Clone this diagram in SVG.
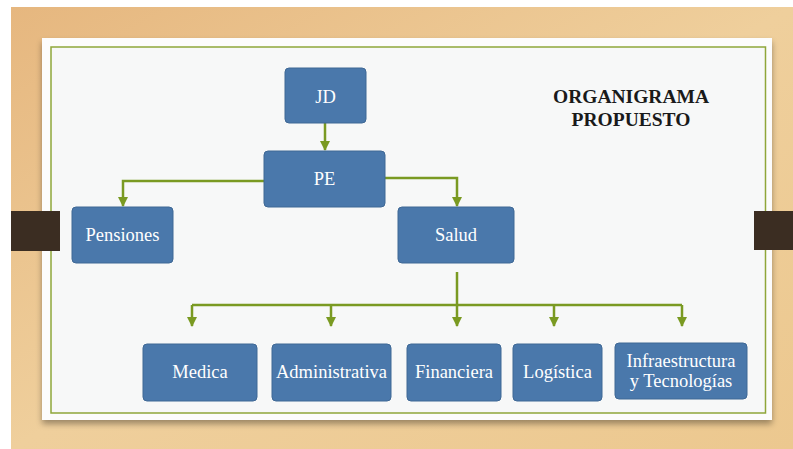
<svg xmlns="http://www.w3.org/2000/svg" width="793" height="449" viewBox="0 0 793 449">
<defs>
<linearGradient id="wood" x1="0" y1="0" x2="1" y2="1">
<stop offset="0" stop-color="#e6b77f"/>
<stop offset="0.5" stop-color="#efcf9c"/>
<stop offset="1" stop-color="#ecc88f"/>
</linearGradient>
<marker id="arr" viewBox="0 0 10 10" refX="9" refY="5" markerWidth="4" markerHeight="4" orient="auto" markerUnits="strokeWidth">
<path d="M0,0 L10,5 L0,10 z" fill="#7a9a22"/>
</marker>
<filter id="sh" x="-5%" y="-5%" width="110%" height="115%">
<feGaussianBlur in="SourceAlpha" stdDeviation="3"/>
<feOffset dx="0" dy="4"/>
<feComponentTransfer><feFuncA type="linear" slope="0.35"/></feComponentTransfer>
<feMerge><feMergeNode/><feMergeNode in="SourceGraphic"/></feMerge>
</filter>
</defs>
<style>
.node rect{fill:#4a78ab;stroke:#3f6895;stroke-width:1}
.node text{fill:#ffffff;font-size:18.5px;text-anchor:middle}
.conn path{fill:none;stroke:#7a9a22;stroke-width:2.5;marker-end:url(#arr)}
.conn line{stroke:#7a9a22;stroke-width:2.5}
.title{font-weight:bold;font-size:19.5px;fill:#1a1a1a;text-anchor:middle}
</style>
<rect x="0" y="0" width="793" height="449" fill="#ffffff"/>
<rect x="11" y="7" width="782" height="442" fill="url(#wood)"/>
<rect x="42" y="38" width="730" height="382" fill="#fcfcfc" filter="url(#sh)"/>
<rect x="51" y="47" width="714.5" height="366" fill="#f7f8f8" stroke="#8fa63a" stroke-width="1.5"/>
<rect x="11" y="211" width="49" height="40" fill="#3b2d22"/>
<rect x="754" y="211" width="39" height="39" fill="#3b2d22"/>
<g id="title" font-family="'Liberation Serif', 'Times New Roman', serif"><text class="title" x="631" y="103">ORGANIGRAMA</text><text class="title" x="631" y="126">PROPUESTO</text></g>
<g class="conn" id="connectors">
<path d="M325,123 V150"/>
<path d="M264,181 H123 V206"/>
<path d="M385,178 H457 V206"/>
<path d="M457,272 V326"/>
<line x1="192" y1="305" x2="682" y2="305"/>
<path d="M192,305 V326"/>
<path d="M331,305 V326"/>
<path d="M554,305 V326"/>
<path d="M682,305 V326"/>
</g>
<g font-family="'Liberation Serif', 'Times New Roman', serif">
<g class="node" id="jd"><rect x="285" y="68" width="81" height="55" rx="4"/><text x="325.5" y="103">JD</text></g>
<g class="node" id="pe"><rect x="264" y="151" width="121" height="56" rx="4"/><text x="324.5" y="185">PE</text></g>
<g class="node" id="pensiones"><rect x="72" y="207" width="101" height="56" rx="4"/><text x="122.5" y="241">Pensiones</text></g>
<g class="node" id="salud"><rect x="398" y="207" width="116" height="56" rx="4"/><text x="456" y="241">Salud</text></g>
<g class="node" id="medica"><rect x="143" y="344" width="114" height="57" rx="4"/><text x="200" y="378">Medica</text></g>
<g class="node" id="administrativa"><rect x="272" y="344" width="119" height="57" rx="4"/><text x="331.5" y="378">Administrativa</text></g>
<g class="node" id="financiera"><rect x="407" y="344" width="94" height="57" rx="4"/><text x="454" y="378">Financiera</text></g>
<g class="node" id="logistica"><rect x="513" y="344" width="89" height="57" rx="4"/><text x="557.5" y="378">Logística</text></g>
<g class="node" id="infra"><rect x="615" y="343" width="132" height="56" rx="4"/><text x="681" y="367">Infraestructura</text><text x="681" y="387">y Tecnologías</text></g>
</g>
</svg>
